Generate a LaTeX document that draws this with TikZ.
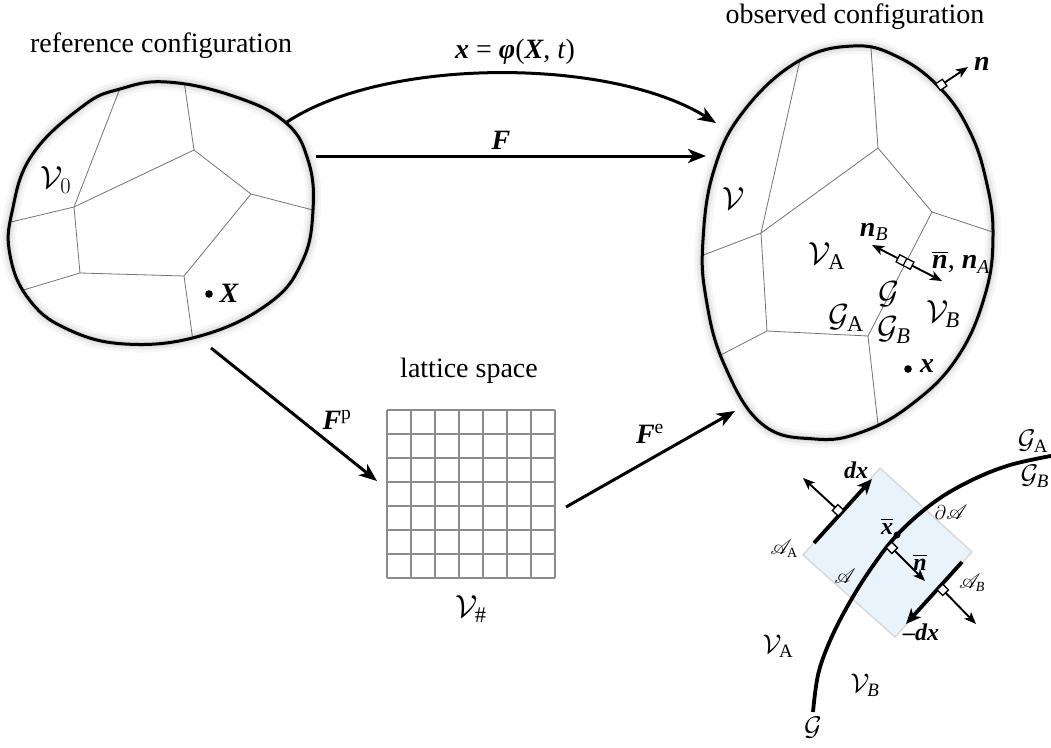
\RequirePackage{fix-cm}
\documentclass[tikz,border=0pt]{standalone}
\usepackage{amsmath}
\usepackage{mathrsfs}
\usepackage{fontspec}
\setmainfont{Liberation Serif}
\usetikzlibrary{arrows.meta,calc}
\newcommand{\bvec}[1]{\mbox{\bfseries\itshape #1}}
\definecolor{areablue}{RGB}{233,243,252}
\definecolor{areaedge}{RGB}{218,218,218}
\newcommand{\rmk}[3]{%
  \path ($(#1)!#3/2!90:(#2)$) coordinate (rq1)
        ($(#1)!#3/2!-90:(#2)$) coordinate (rq2)
        ($(#1)!#3!(#2)$) coordinate (rqd);
  \draw[rmark] (rq1) -- (rq2) -- ($(rq2)+(rqd)-(#1)$) -- ($(rq1)+(rqd)-(#1)$) -- cycle;
}
\tikzset{
  lbl/.style={inner sep=0pt, font=\fontsize{28}{32}\selectfont},
  clbl/.style={inner sep=0pt, font=\fontsize{32}{36}\selectfont},
  slbl/.style={inner sep=0pt, font=\fontsize{24}{28}\selectfont},
  sclbl/.style={inner sep=0pt, font=\fontsize{27}{30}\selectfont},
  tlbl/.style={inner sep=0pt, font=\fontsize{20}{24}\selectfont},
  blob/.style={line width=3pt,
    preaction={draw, line width=16pt, opacity=0.035},
    preaction={draw, line width=10pt, opacity=0.05},
    preaction={draw, line width=5pt, opacity=0.07}},
  grain/.style={draw=black!55, line width=0.8pt},
  bigarrow/.style={line width=3pt, -{Stealth[length=18pt,width=14pt,inset=5pt]}},
  smallarrow/.style={line width=1.9pt, -{Stealth[length=12pt,width=9.5pt,inset=3pt]}},
  dblarrow/.style={line width=1.9pt, {Stealth[length=12pt,width=9.5pt,inset=3pt]}-{Stealth[length=12pt,width=9.5pt,inset=3pt]}},
  thickline/.style={line width=3.8pt},
  thickarrow/.style={line width=3.8pt, -{Stealth[length=15pt,width=13pt,inset=4pt]}},
  latt/.style={draw=black!45, line width=1.2pt},
  rmark/.style={line width=1.3pt, fill=white},
}
\begin{document}
\begin{tikzpicture}[x=1pt,y=-1pt]
\useasboundingbox (0,0) rectangle (1051,747);
\fill[white] (0,0) rectangle (1051,747);

% ---------- reference configuration ----------
\begin{scope}
\clip plot[smooth cycle, tension=0.7] coordinates {(167,82) (233,96) (285,122) (308,160) (313,210) (302,262) (268,304) (200,336) (125,344) (65,328) (28,298) (10,255) (12,212) (32,155) (83,106) (120,89)};
\coordinate (R1) at (194,150);
\coordinate (R2) at (74,207);
\coordinate (R3) at (251,194);
\coordinate (R4) at (80,273);
\coordinate (R5) at (184,276);
\draw[grain] (R2) -- (131,60);
\draw[grain] (R1) -- (181,60);
\draw[grain] (R1) -- (R2);
\draw[grain] (R1) -- (R3);
\draw[grain] (R3) -- (340,217);
\draw[grain] (R2) -- (-10,227);
\draw[grain] (R2) -- (R4);
\draw[grain] (R4) -- (R5);
\draw[grain] (R5) -- (R3);
\draw[grain] (R4) -- (0,297);
\draw[grain] (R5) -- (197,370);
\end{scope}
\draw[blob] plot[smooth cycle, tension=0.7] coordinates {(167,82) (233,96) (285,122) (308,160) (313,210) (302,262) (268,304) (200,336) (125,344) (65,328) (28,298) (10,255) (12,212) (32,155) (83,106) (120,89)};

\node[lbl, anchor=base] (tref) at (161,52) {reference configuration};
\node[clbl] (V0) at (56,180) {$\mathcal{V}_0$};
\fill (209,294) circle (3.8pt) coordinate (Xdot);
\node[lbl] (Xl) at (229,293) {\bvec{X}};

% ---------- observed configuration ----------
\begin{scope}
\clip plot[smooth cycle, tension=0.7] coordinates {(853,46) (898,57) (940,88) (969,130) (986,180) (993,235) (985,295) (957,358) (912,404) (862,432) (815,439) (762,424) (724,364) (706,298) (703,240) (714,170) (743,112) (797,62)};
\coordinate (O1) at (878,148);
\coordinate (O2) at (761,233);
\coordinate (O3) at (932,212);
\coordinate (O4) at (767,331);
\coordinate (O5) at (868,336);
\draw[grain] (O1) -- (869,20);
\draw[grain] (O2) -- (809,20);
\draw[grain] (O1) -- (O2);
\draw[grain] (O1) -- (O3);
\draw[grain] (O3) -- (1020,241);
\draw[grain] (O2) -- (680,264);
\draw[grain] (O2) -- (O4);
\draw[grain] (O4) -- (O5);
\draw[grain] (O5) -- (O3);
\draw[grain] (O4) -- (690,371);
\draw[grain] (O5) -- (882,460);
\end{scope}
\draw[blob] plot[smooth cycle, tension=0.7] coordinates {(853,46) (898,57) (940,88) (969,130) (986,180) (993,235) (985,295) (957,358) (912,404) (862,432) (815,439) (762,424) (724,364) (706,298) (703,240) (714,170) (743,112) (797,62)};

\node[lbl, anchor=base] (tobs) at (855,23) {observed configuration};
\node[clbl] (Vobs) at (734,199) {$\mathcal{V}$};

% outer normal n
\coordinate (nf) at (938,87);
\coordinate (nt) at (968,67);
\draw[smallarrow] (nf) -- (nt);
\rmk{nf}{nt}{8pt}
\node[lbl] (nl) at (982,64) {\bvec{n}};

% grain boundary normals
\coordinate (nC) at (905,262);
\coordinate (nE1) at (872,245);
\coordinate (nE2) at (942,281);
\draw[dblarrow] (nE1) -- (nE2);
\path ($(nC)!8pt!(nE2)$) coordinate (cu) ($(nC)!8pt!(nE1)$) coordinate (cd);
\draw[rmark] ($(cu)!4pt!90:(nE2)$) -- ($(cu)!4pt!-90:(nE2)$) -- ($(cd)!4pt!-90:(nE2)$) -- ($(cd)!4pt!90:(nE2)$) -- cycle;
\draw[line width=1.3pt] ($(nC)!4pt!90:(nE2)$) -- ($(nC)!4pt!-90:(nE2)$);

\node[lbl] (nBl) at (874,232) {\bvec{n}$_{\textit{B}}$};
\node[lbl] (nAl) at (961,262) {$\overline{\bvec{n}}$, \bvec{n}$_{\textit{A}}$};
\node[clbl] (VA) at (827,256) {$\mathcal{V}_{\text{A}}$};
\node[clbl] (Gl) at (889,294) {$\mathcal{G}$};
\node[clbl] (GA) at (846,318) {$\mathcal{G}_{\text{A}}$};
\node[clbl] (GB) at (894,330) {$\mathcal{G}_{\textit{B}}$};
\node[clbl] (VB) at (943,314) {$\mathcal{V}_{\textit{B}}$};
\fill (908,369) circle (3.8pt) coordinate (xdot);
\node[lbl] (xl) at (927,366) {\bvec{x}};

% ---------- lattice space ----------
\node[lbl, anchor=base] (tlat) at (469,377) {lattice space};
\foreach \i in {0,...,7} {
  \draw[latt] ({387+24*\i},410) -- ({387+24*\i},578);
  \draw[latt] (387,{410+24*\i}) -- (555,{410+24*\i});
}
\node[clbl] (Vh) at (471,609) {$\mathcal{V}_{\#}$};

% ---------- mappings ----------
\coordinate (phiS) at (287,122);
\coordinate (phiE) at (716,123);
\draw[bigarrow] (phiS) .. controls (385,57) and (610,57) .. (phiE);
\node[lbl] (phil) at (515,52) {\bvec{x} = \bvec{φ}(\bvec{X}, \textit{t})};

\coordinate (FS) at (316,156);
\coordinate (FE) at (706,156);
\draw[bigarrow] (FS) -- (FE);
\node[lbl] (Fl) at (501,140) {\bvec{F}};

\coordinate (FpS) at (211,348);
\coordinate (FpE) at (377,481);
\draw[bigarrow] (FpS) -- (FpE);
\node[lbl] (Fpl) at (337,420) {\bvec{F}\textsuperscript{p}};

\coordinate (FeS) at (566,507);
\coordinate (FeE) at (735,411);
\draw[bigarrow] (FeS) -- (FeE);
\node[lbl] (Fel) at (650,434) {\bvec{F}\textsuperscript{e}};

% ---------- interface detail ----------
\coordinate (aT) at (880,468);
\coordinate (aR) at (972,552);
\coordinate (aB) at (895,637);
\coordinate (aL) at (803,555);
\fill[areablue] (aT) -- (aR) -- (aB) -- (aL) -- cycle;
\draw[areaedge, line width=1.5pt] (aT) -- (aR) -- (aB) -- (aL) -- cycle;

% A_A side
\coordinate (dxS) at (814,543);
\coordinate (dxE) at (872,479);
\draw[thickarrow] (dxS) -- (dxE);
\coordinate (nAf) at (841,513);
\coordinate (nAt) at (803,478);
\draw[smallarrow] (nAf) -- (nAt);
\rmk{nAf}{nAt}{8pt}

% A_B side
\coordinate (mdxS) at (962,562);
\coordinate (mdxE) at (906,624);
\draw[thickarrow] (mdxS) -- (mdxE);
\coordinate (nBf) at (940,587);
\coordinate (nBt) at (976,624);
\draw[smallarrow] (nBf) -- (nBt);
\rmk{nBf}{nBt}{8pt}

% interface curve
\draw[thickline] plot[smooth, tension=0.6] coordinates {(813,712) (818,675) (829,643) (847,607) (870,570) (897,535) (933,503) (970,481) (1010,465) (1056,455)};
\coordinate (nbf) at (889,545);
\coordinate (nbt) at (925,581);
\draw[smallarrow] (nbf) -- (nbt);
\rmk{nbf}{nbt}{8pt}
\fill (897,535) circle (3.5pt) coordinate (xbar);

\node[slbl] (dxl) at (856,470) {\bvec{dx}};
\node[slbl] (mdxl) at (921,632) {\bvec{–dx}};
\node[slbl] (xbl) at (887,526) {$\overline{\bvec{x}}$};
\node[slbl] (nbl) at (920,562) {$\overline{\bvec{n}}$};
\node[tlbl] (dAl) at (951,512) {$\partial\mathscr{A}$};
\node[tlbl] (AAl) at (784,549) {$\mathscr{A}_{\text{A}}$};
\node[tlbl] (Al) at (845,576) {$\mathscr{A}$};
\node[tlbl] (ABl) at (972,583) {$\mathscr{A}_{\textit{B}}$};
\node[sclbl] (VAd) at (778,646) {$\mathcal{V}_{\text{A}}$};
\node[sclbl] (VBd) at (865,685) {$\mathcal{V}_{\textit{B}}$};
\node[sclbl] (Gd) at (813,728) {$\mathcal{G}$};
\node[sclbl] (GAd) at (1033,441) {$\mathcal{G}_{\text{A}}$};
\node[sclbl, anchor=east] (GBd) at (1049,476) {$\mathcal{G}_{\textit{B}}$};
\end{tikzpicture}
\end{document}
